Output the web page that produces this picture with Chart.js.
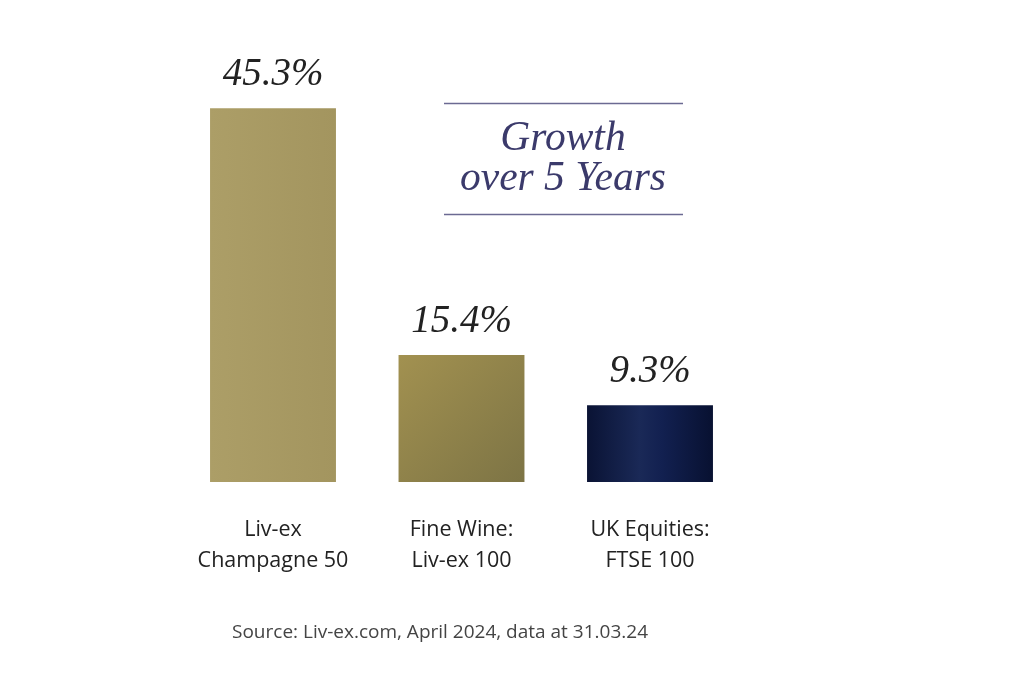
<!DOCTYPE html>
<html><head><meta charset="utf-8">
<script src="https://cdn.jsdelivr.net/npm/chart.js@4/dist/chart.umd.min.js"></script>
<style>html,body{margin:0;padding:0;background:#fff;}#wrap{width:1024px;height:692px;}</style>
</head><body><div id="wrap"><canvas id="c" width="1024" height="692"></canvas></div>
<script>
const categories = [["Liv-ex", "Champagne 50"], ["Fine Wine:", "Liv-ex 100"], ["UK Equities:", "FTSE 100"]];
const growthValues = [45.3, 15.4, 9.3];
const valueLabels = ["45.3%", "15.4%", "9.3%"];
const titleLines = ["Growth", "over 5 Years"];
const sourceText = "Source: Liv-ex.com, April 2024, data at 31.03.24";
const BAR_PCT = 0.668;

function barFill(ctx) {
  const chart = ctx.chart;
  const i = ctx.dataIndex;
  const area = chart.chartArea;
  const xs = chart.scales.x, ys = chart.scales.y;
  if (!area || !xs || !ys) return '#a89a62';
  const c = chart.ctx;
  const cx = xs.getPixelForValue(i);
  const half = (area.width / categories.length) * BAR_PCT / 2;
  const top = ys.getPixelForValue(growthValues[i]);
  const base = ys.getPixelForValue(0);
  if (i === 0) {
    const g = c.createLinearGradient(cx - half, 0, cx + half, 0);
    g.addColorStop(0, '#ac9e67'); g.addColorStop(1, '#a3955f');
    return g;
  } else if (i === 1) {
    const g = c.createLinearGradient(cx - half, top, cx + half, base);
    g.addColorStop(0, '#a29150'); g.addColorStop(1, '#7d7445');
    return g;
  } else {
    const g = c.createLinearGradient(cx - half, 0, cx + half, 0);
    g.addColorStop(0, '#0a1334'); g.addColorStop(0.42, '#1a2957'); g.addColorStop(0.6, '#122050'); g.addColorStop(1, '#081131');
    return g;
  }
}

const decor = {
  id: 'decor',
  afterDatasetsDraw(chart) {
    const c = chart.ctx;
    const meta = chart.getDatasetMeta(0);
    c.save();
    c.fillStyle = '#222';
    c.font = 'italic 39px "Liberation Serif"';
    c.textAlign = 'center';
    c.textBaseline = 'alphabetic';
    meta.data.forEach((el, i) => { c.fillText(valueLabels[i], el.x, el.y - 23); });
    // growth box
    c.strokeStyle = '#6b6a92'; c.lineWidth = 1.5;
    c.beginPath(); c.moveTo(444, 103.5); c.lineTo(683, 103.5); c.moveTo(444, 214.5); c.lineTo(683, 214.5); c.stroke();
    c.fillStyle = '#3b3a6b';
    c.font = 'italic 41.5px "Liberation Serif"';
    c.fillText(titleLines[0], 563, 150);
    c.fillText(titleLines[1], 563, 190);
    // source
    c.fillStyle = '#444';
    c.font = '19px "Open Sans"';
    c.fillText(sourceText, 440, 638);
    c.restore();
  }
};

new Chart(document.getElementById('c'), {
  type: 'bar',
  data: { labels: categories, datasets: [{ data: growthValues, backgroundColor: barFill, borderWidth: 0, barPercentage: BAR_PCT, categoryPercentage: 1.0 }] },
  options: {
    responsive: false, animation: false,
    layout: { padding: { left: 178.75, right: 279.75, top: 69.5, bottom: 91 } },
    plugins: { legend: { display: false }, tooltip: { enabled: false } },
    scales: {
      x: { grid: { display: false }, border: { display: false },
           ticks: { color: '#222', font: { family: 'Open Sans', size: 21.5, lineHeight: 1.42 }, padding: 25, maxRotation: 0, autoSkip: false } },
      y: { display: false, min: 0, max: 50 }
    }
  },
  plugins: [decor]
});
</script></body></html>
